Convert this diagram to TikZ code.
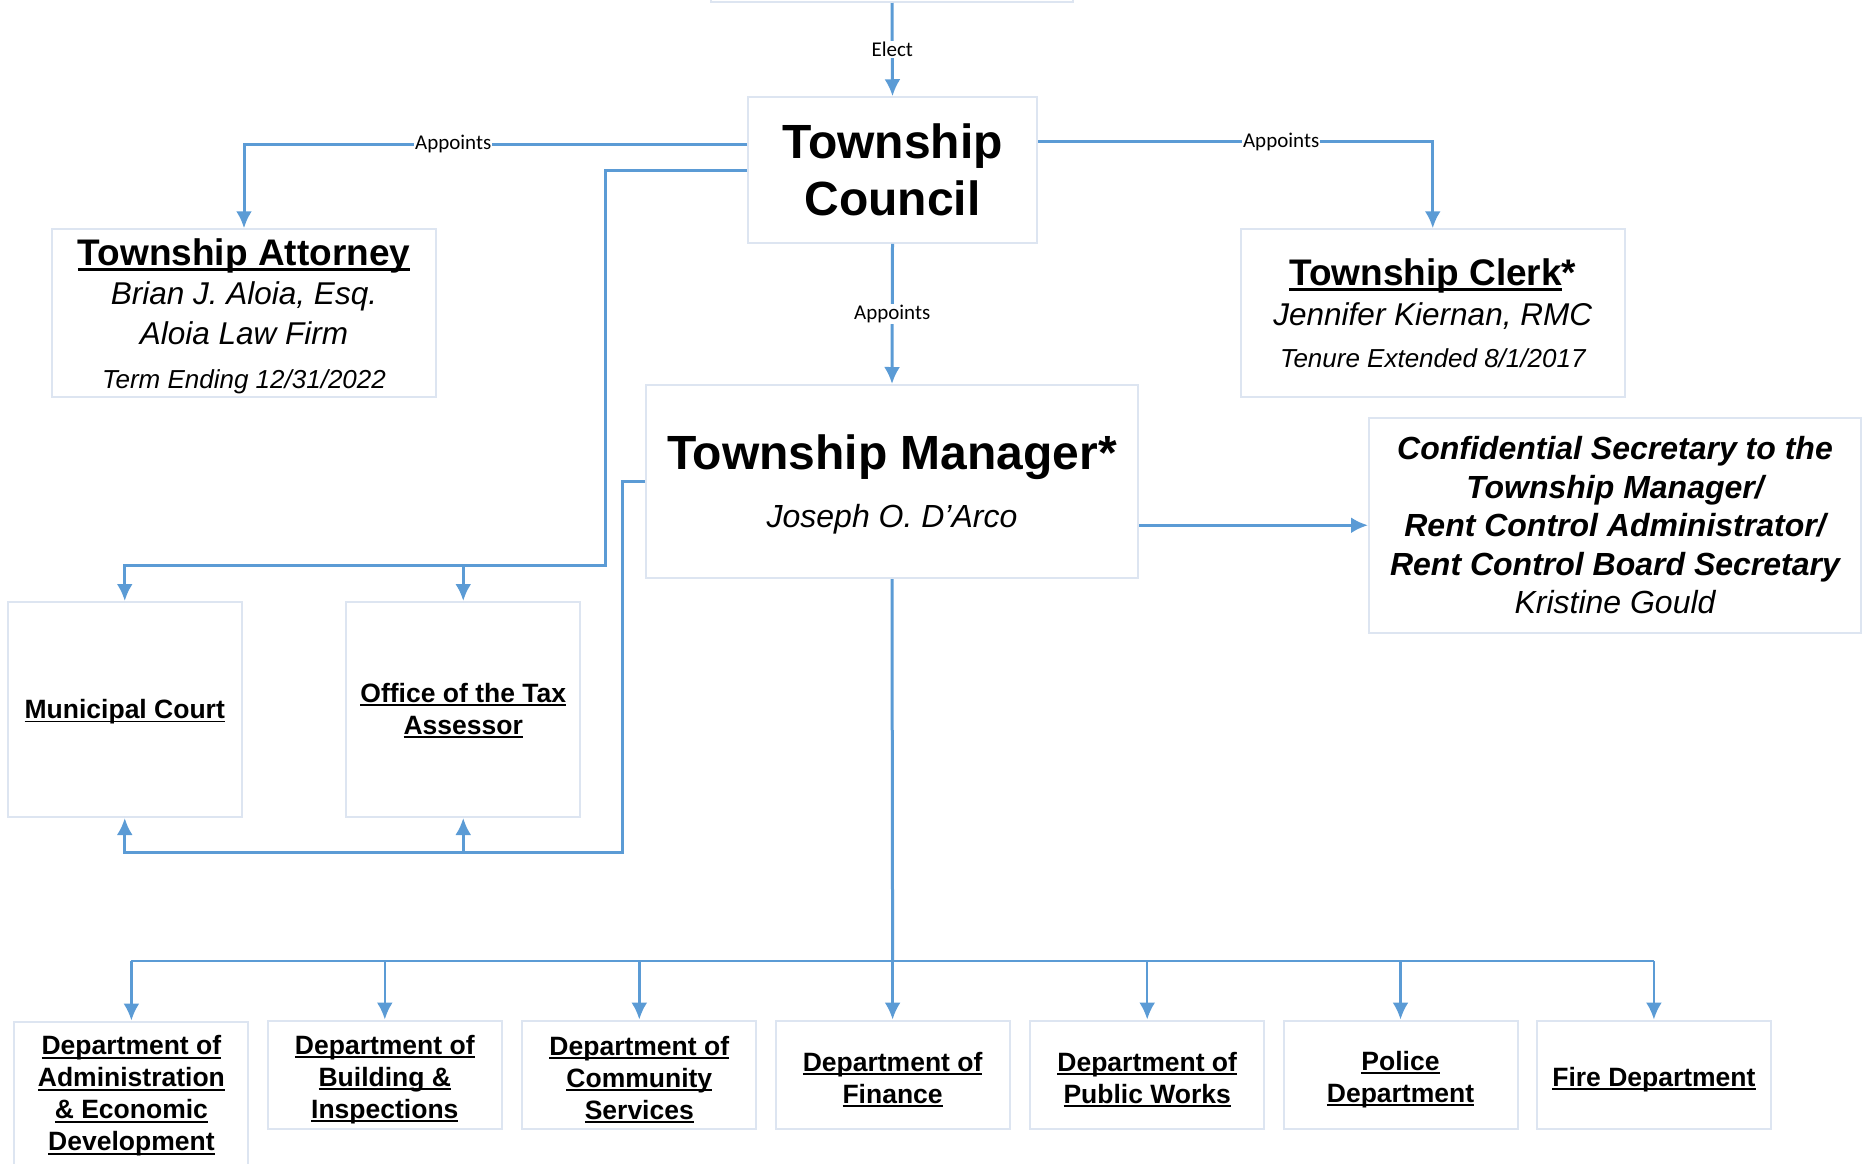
\documentclass[tikz,border=0pt]{standalone}
\usepackage{fontspec}
\setmainfont{Liberation Sans}
\newfontfamily\calibfont{Carlito}
\usetikzlibrary{arrows.meta,positioning}

\definecolor{linkblue}{RGB}{91,155,213}
\definecolor{boxline}{RGB}{221,229,241}
\newcommand{\ulbox}[1]{\setbox0\hbox{#1}\rlap{\rule[-0.15em]{\wd0}{0.075em}}\box0}
\newcommand{\lift}[1]{\rule{0pt}{#1}}

\begin{document}
\begin{tikzpicture}
        [x=1pt,y=-1pt,>={Latex[length=17pt,width=16pt]},
         box/.style={draw=boxline,line width=2pt,fill=white,align=center,inner sep=0pt},
         conn/.style={draw=linkblue,line width=3pt},
         drop/.style={draw=linkblue,line width=2.5pt},
         tag/.style={font=\calibfont\fontsize{21}{24}\selectfont,fill=white,inner sep=1pt},
         dept/.style={box,minimum width=234pt,minimum height=108.5pt,font=\fontsize{26.5}{32}\selectfont\bfseries}]

        \useasboundingbox (0,0) rectangle (1865,1163);

        % top row
        \node[box,minimum width=362pt,minimum height=60pt] (voters) at (892,-28) {};
        \node[box,minimum width=289pt,minimum height=145.5pt,font=\fontsize{48}{57}\selectfont\bfseries]
            (council) at (892.5,170) {Township\\Council};
        \node[box,minimum width=384.5pt,minimum height=167.5pt,font=\fontsize{31.5}{39.5}\selectfont\itshape]
            (attorney) at (244,313)
            {{\fontsize{37}{39}\selectfont\upshape\bfseries\lift{33pt}\ulbox{Township Attorney}}\\
             Brian J. Aloia, Esq.\\
             Aloia Law Firm\\[4.5pt]
             {\fontsize{26}{30}\selectfont Term Ending 12/31/2022}};
        \node[box,minimum width=384.5pt,minimum height=167.5pt,font=\fontsize{31.5}{40}\selectfont\itshape]
            (clerk) at (1432.75,313)
            {{\fontsize{37}{40}\selectfont\upshape\bfseries\ulbox{Township Clerk}*}\\
             Jennifer Kiernan, RMC\\[2.5pt]
             {\fontsize{26}{30}\selectfont Tenure Extended 8/1/2017}};

        % manager row
        \node[box,minimum width=492pt,minimum height=193pt,font=\fontsize{32}{57.5}\selectfont]
            (manager) at (892,481.5)
            {{\fontsize{48}{54}\selectfont\bfseries\lift{41pt}Township Manager*}\\
             \textit{Joseph O. D’Arco}};
        \node[box,minimum width=492pt,minimum height=215.5pt,font=\fontsize{32}{38.4}\selectfont\bfseries\itshape]
            (secretary) at (1615,525.25)
            {Confidential Secretary to the\\
             Township Manager/\\
             Rent Control Administrator/\\
             Rent Control Board Secretary\\
             {\mdseries Kristine Gould}};

        \node[dept,minimum height=215pt] (court) at (124.75,709.5) {\lift{23.5pt}\ulbox{Municipal Court}};
        \node[dept,minimum height=215pt] (assessor) at (463.25,709.5) {\lift{21.5pt}\ulbox{Office of the Tax}\\\ulbox{Assessor}};

        % departments
        \node[dept,minimum height=149pt,anchor=north] (d1) at (131.4,1020.5)
            {\ulbox{Department of}\\\ulbox{Administration}\\\ulbox{\& Economic}\\\ulbox{Development}};
        \node[dept] (d2) at (384.8,1074.75) {\lift{28.5pt}\ulbox{Department of}\\\ulbox{Building \&}\\\ulbox{Inspections}};
        \node[dept] (d3) at (639.3,1074.75) {\lift{28.5pt}\ulbox{Department of}\\\ulbox{Community}\\\ulbox{Services}};
        \node[dept] (d4) at (892.6,1074.75) {\lift{28.5pt}\ulbox{Department of}\\\ulbox{Finance}};
        \node[dept] (d5) at (1147.2,1074.75) {\lift{28.5pt}\ulbox{Department of}\\\ulbox{Public Works}};
        \node[dept] (d6) at (1400.5,1074.75) {\lift{28.5pt}\ulbox{Police}\\\ulbox{Department}};
        \node[dept] (d7) at (1653.9,1074.75) {\lift{28.5pt}\ulbox{Fire Department}};

        \coordinate (cj) at (605,565);
        \coordinate (mj) at (622,852);
        \coordinate (bus) at (892.6,961);

        % council links
        \draw[conn,->] (voters.south) -- (council.north) node[tag,midway] (elect) {Elect};
        \draw[conn,->] ([yshift=26pt]council.west) -| (attorney.north) node[tag,pos=0.292] (apL) {Appoints};
        \draw[conn,->] ([yshift=28.5pt]council.east) -| (clerk.north) node[tag,pos=0.308] (apR) {Appoints};
        \draw[conn,->] (council.south) -- (manager.north) node[tag,midway] (apM) {Appoints};
        \draw[conn,->] (council.west) -| (cj) -| (court.north);
        \draw[conn,->] (assessor.north |- cj) -- (assessor.north);

        % manager links
        \draw[conn,->] (manager.west) -| (mj) -| (court.south);
        \draw[conn,->] (assessor.south |- mj) -- (assessor.south);
        \draw[conn,->] (manager.east |- secretary.west) -- (secretary.west);
        \draw[conn] (manager.south) -- (bus);
        \draw[drop] (bus -| d1.north) -- (bus -| d7.north);
        \foreach \d in {d1,d2,d3,d4,d5,d6,d7}
            \draw[drop,->] (bus -| \d.north) -- (\d.north);

\end{tikzpicture}
\end{document}
